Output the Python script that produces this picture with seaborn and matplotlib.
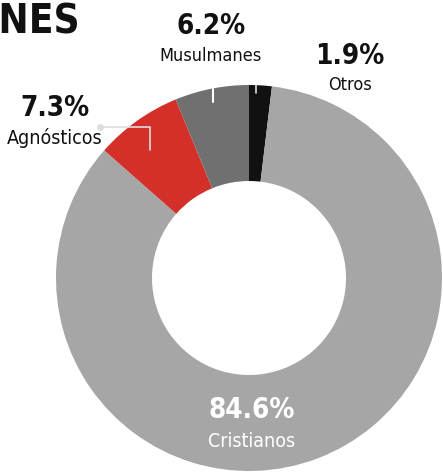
import matplotlib
matplotlib.use("Agg")
import matplotlib.pyplot as plt
import seaborn as sns

# --- Datos ---
categorias = ["Otros", "Cristianos", "Agnósticos", "Musulmanes"]
porcentajes = [1.9, 84.6, 7.3, 6.2]
colores = ["#111111", "#a6a6a6", "#d3302a", "#707070"]

sns.set_theme(style="white")
plt.rcParams["font.family"] = ["DejaVu Sans"]
plt.rcParams["font.stretch"] = "condensed"

W, H = 443, 474
fig = plt.figure(figsize=(W / 100, H / 100), dpi=100)
ax = fig.add_axes([0, 0, 1, 1])

cx, cy = 249, H - 278
ax.pie(porcentajes, colors=colores, startangle=90, counterclock=False,
       center=(cx, cy), radius=193, frame=True,
       wedgeprops=dict(width=96, linewidth=0))
ax.set_xlim(0, W)
ax.set_ylim(0, H)
ax.set_aspect("equal")
ax.axis("off")

# --- Titulo (cortado a la izquierda, como en el original) ---
ax.text(80, H - 33, "RELIGIONES", ha="right", va="baseline",
        fontsize=29, fontweight="bold", color="#111111")

# --- Etiquetas ---
val = dict(zip(categorias, porcentajes))

def etiqueta(x, y_pct, y_nom, nombre, color="#111111", fs1=20, fs2=14):
    ax.text(x, H - y_pct, f"{val[nombre]}%", ha="center", va="baseline",
            fontsize=fs1, fontweight="bold", color=color)
    ax.text(x, H - y_nom, nombre, ha="center", va="baseline",
            fontsize=fs2, color=color)

etiqueta(211, 34, 61, "Musulmanes", fs2=13)
etiqueta(350, 64, 90, "Otros", fs2=13)
etiqueta(55, 116, 144, "Agnósticos")
etiqueta(252, 418, 447, "Cristianos", color="white")

# --- Lineas guia ---
ax.plot([213, 213], [H - 88, H - 102], color="white", lw=1.5)
ax.plot([100, 150, 150], [H - 127, H - 127, H - 150], color="#dddddd", lw=1.2)
ax.plot([100], [H - 127], "o", color="#dddddd", ms=4)
ax.plot([256, 256], [H - 85, H - 93], color="#dddddd", lw=1.2)

fig.savefig("out.png", dpi=100, facecolor="white")
